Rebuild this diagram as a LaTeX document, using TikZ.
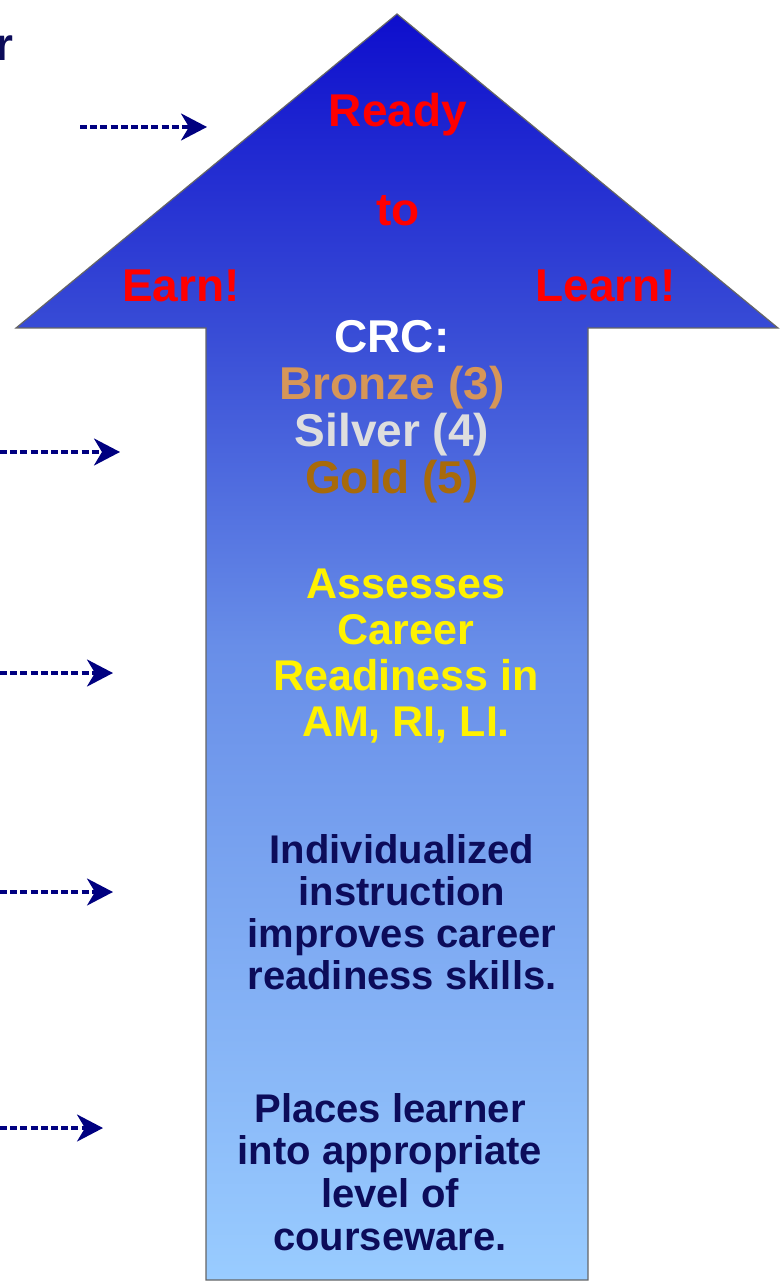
\documentclass[tikz,border=0pt]{standalone}
\usepackage{fontspec}
\setmainfont{Liberation Sans}
\usetikzlibrary{arrows.meta}

\definecolor{navy}{RGB}{0,0,128}
\definecolor{textnavy}{RGB}{12,12,90}
\definecolor{bronze}{RGB}{214,150,88}
\definecolor{silver}{RGB}{222,222,222}
\definecolor{goldtxt}{RGB}{168,106,10}
\definecolor{tipblue}{RGB}{14,14,205}
\definecolor{headblue}{RGB}{56,76,214}
\definecolor{midblue}{RGB}{104,142,232}
\definecolor{baseblue}{RGB}{153,204,255}

\pgfdeclareverticalshading{upshade}{100bp}{
  color(0bp)=(baseblue); color(25bp)=(baseblue);
  color(50bp)=(midblue); color(62.5bp)=(headblue);
  color(75bp)=(tipblue); color(100bp)=(tipblue)}

\tikzset{
  pointer/.style={navy, line width=1.6pt, dash pattern=on 3.5pt off 1.6pt,
    -{Stealth[length=13pt, width=13.5pt, inset=4pt]}},
  bigword/.style={font=\bfseries\fontsize{23}{23.5}\selectfont, inner sep=0pt, anchor=base},
  blurb/.style={font=\bfseries\fontsize{20}{21}\selectfont, inner sep=0pt, anchor=base, align=center}
}

\begin{document}
\begin{tikzpicture}[x=0.5pt, y=-0.5pt]
\useasboundingbox (0,0) rectangle (780,1283);

% the big arrow
\draw[draw=black!60, line width=0.6pt, shading=upshade]
  (397,14) -- (778,328) -- (588,328) -- (588,1280)
  -- (206,1280) -- (206,328) -- (16,328) -- cycle;

% head
\node[bigword, red] (ready) at (398,127) {Ready};
\node[bigword, red] (to) at (398,226) {to};
\node[bigword, red] (earn) at (181,302) {Earn!};
\node[bigword, red] (learn) at (606,302) {Learn!};

% shaft (base = last line)
\node[bigword, align=center] (crc) at (392,493)
  {\textcolor{white}{CRC:}\\ \textcolor{bronze}{Bronze (3)}\\
   \textcolor{silver}{Silver (4)}\\ \textcolor{goldtxt}{Gold (5)}};
\node[blurb, yellow, font=\bfseries\fontsize{21.5}{23}\selectfont] (assess) at (406,736)
  {Assesses\\ Career\\ Readiness in\\ AM, RI, LI.};
\node[blurb, textnavy] (instr) at (402,989)
  {Individualized\\ instruction\\ improves career\\ readiness skills.};
\node[blurb, textnavy, font=\bfseries\fontsize{20}{21.3}\selectfont] (place) at (390,1250)
  {Places learner\\ into appropriate\\ level of\\ courseware.};

% cut-off text on the left
\node[bigword, textnavy, anchor=base east] (cut) at (14,61) {r};

% pointers
\foreach \n/\xa/\xb/\y in {1/80/207/127, 2/0/120/452, 3/0/113/673, 4/0/113/892, 5/0/103/1128} {
  \coordinate (from\n) at (\xa,\y);
  \coordinate (to\n) at (\xb,\y);
  \draw[pointer] (from\n) -- (to\n);
}
\end{tikzpicture}
\end{document}
